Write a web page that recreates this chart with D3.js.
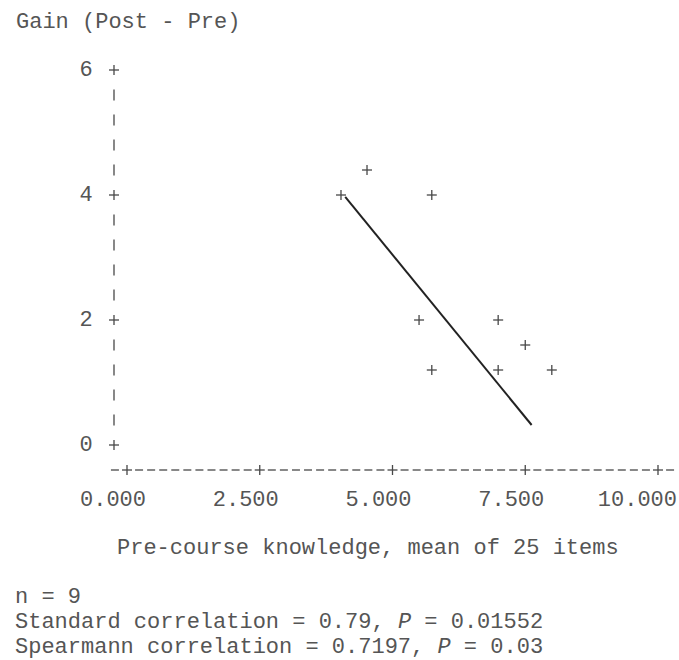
<!DOCTYPE html>
<html>
<head>
<meta charset="utf-8">
<script src="https://cdn.jsdelivr.net/npm/d3@7"></script>
<style>
  body { margin: 0; background: #fff; }
  .txt { font-family: "Liberation Mono", "Courier New", monospace; font-size: 22px; fill: #555; }
</style>
</head>
<body>
<div id="screen"></div>
<script>
// data
const preKnowledge = [4.03, 4.52, 5.74, 5.50, 5.74, 6.99, 6.99, 7.50, 8.00];
const gain = [4.0, 4.4, 4.0, 2.0, 1.2, 2.0, 1.2, 1.6, 1.2];
const fitLine = [[4.11, 3.97], [7.62, 0.32]];
const xTicks = [0, 2.5, 5, 7.5, 10];
const yTicks = [0, 2, 4, 6];
const statLines = [
  ["n = 9"],
  ["Standard correlation = 0.79, ", "P", " = 0.01552"],
  ["Spearmann correlation = 0.7197, ", "P", " = 0.03"]
];

const W = 679, H = 660;
const svg = d3.select("#screen").append("svg")
  .attr("width", W).attr("height", H);

const x = d3.scaleLinear().domain([0, 10]).range([127, 658]);
const y = d3.scaleLinear().domain([0, 6]).range([445, 70]);
const yAxisX = 114, xAxisY = 470;
const ink = "#484848";

function plus(g, cx, cy, s) {
  g.append("line").attr("x1", cx - s).attr("x2", cx + s).attr("y1", cy).attr("y2", cy)
    .attr("stroke", ink).attr("stroke-width", 1.3);
  g.append("line").attr("x1", cx).attr("x2", cx).attr("y1", cy - s).attr("y2", cy + s)
    .attr("stroke", ink).attr("stroke-width", 1.3);
}

svg.append("text").attr("class", "txt").attr("x", 16).attr("y", 28).text("Gain (Post - Pre)");

// y axis: + at ticks, | between
const yg = svg.append("g");
yTicks.forEach(t => {
  plus(yg, yAxisX, y(t), 5);
  yg.append("text").attr("class", "txt").attr("x", 86).attr("y", y(t) + 6)
    .attr("text-anchor", "middle").text(t);
});
const yStep = (y(0) - y(2)) / 5;
for (let i = 1; i < 15; i++) {
  if (i % 5 === 0) continue;
  const cy = y(6) + i * yStep;
  yg.append("line").attr("x1", yAxisX).attr("x2", yAxisX)
    .attr("y1", cy - 5.5).attr("y2", cy + 5.5)
    .attr("stroke", ink).attr("stroke-width", 1.3);
}

// x axis: + at ticks, - between
const xg = svg.append("g");
const xStep = (x(10) - x(0)) / 44;
for (let i = -1; i <= 45; i++) {
  if (i >= 0 && i <= 44 && i % 11 === 0) continue;
  const cx = x(0) + i * xStep;
  xg.append("line").attr("x1", cx - 4).attr("x2", cx + 4)
    .attr("y1", xAxisY).attr("y2", xAxisY)
    .attr("stroke", ink).attr("stroke-width", 1.3);
}
xTicks.forEach(t => {
  plus(xg, x(t), xAxisY, 5);
  xg.append("text").attr("class", "txt").attr("x", x(t) + 19).attr("y", 506)
    .attr("text-anchor", "end").text(d3.format(".3f")(t));
});

svg.append("text").attr("class", "txt").attr("x", 117).attr("y", 554)
  .text("Pre-course knowledge, mean of 25 items");

// points
const pg = svg.append("g");
preKnowledge.forEach((v, i) => plus(pg, x(v), y(gain[i]), 5));

// fitted line
svg.append("path")
  .attr("d", d3.line().x(d => x(d[0])).y(d => y(d[1]))(fitLine))
  .attr("fill", "none").attr("stroke", "#222").attr("stroke-width", 2);

// stats
statLines.forEach((parts, i) => {
  const t = svg.append("text").attr("class", "txt").attr("x", 15).attr("y", 603 + i * 25);
  parts.forEach(p => {
    t.append("tspan").attr("font-style", p === "P" ? "italic" : null).text(p);
  });
});
</script>
</body>
</html>
